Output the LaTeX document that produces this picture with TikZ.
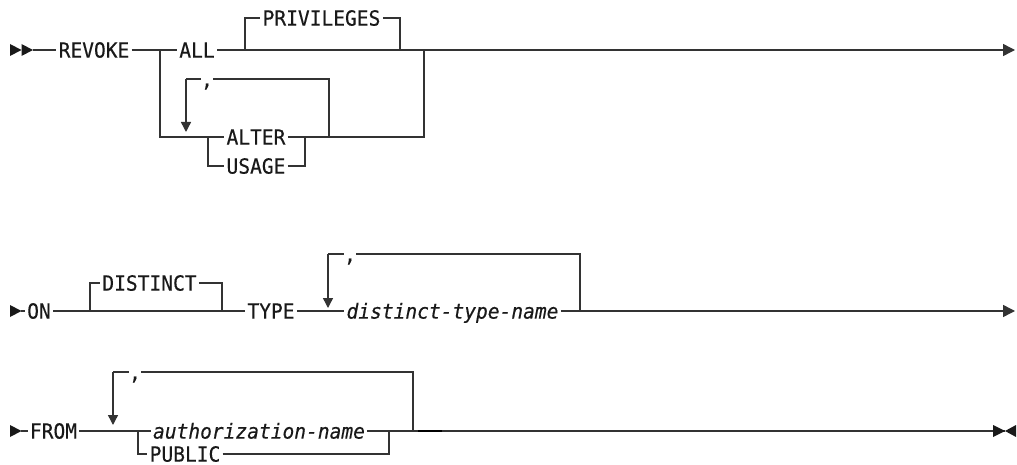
\documentclass[tikz,border=0pt]{standalone}
\usepackage{fontspec}
\newfontfamily\railfont[FakeStretch=0.94,FakeBold=0.4]{DejaVu Sans Mono}
\usetikzlibrary{arrows.meta}
\tikzset{
  rail/.style={draw=black!80,line width=0.7pt},
  kw/.style={font=\railfont\fontsize{10.4}{12}\selectfont,text=black!90,
    inner xsep=1pt,inner ysep=0pt,text height=7.6pt,text depth=0pt},
  var/.style={kw,font=\railfont\itshape\fontsize{10.4}{12}\selectfont},
  sep/.style={kw,inner xsep=0pt},
  head/.style={fill=black!90},
  tip/.style={-{Triangle[length=6pt,width=6pt]}},
  down/.style={-{Triangle[length=5pt,width=5pt]}},
}
\begin{document}
\begin{tikzpicture}[x=0.5pt,y=-0.5pt]
  \useasboundingbox (0,0) rectangle (1017,465);
  % REVOKE ALL / ALTER / USAGE
  \coordinate (s1) at (10,50);
  \coordinate (s1e) at (33,50);
  \coordinate (j1) at (160,50);
  \coordinate (j1b) at (160,137);
  \coordinate (p1) at (245,50);
  \coordinate (p1t) at (245,18);
  \coordinate (p2) at (400,50);
  \coordinate (p2t) at (400,18);
  \coordinate (j2) at (424,50);
  \coordinate (j2b) at (424,137);
  \coordinate (e1) at (1015,50);
  \coordinate (c1) at (329,137);
  \coordinate (c1t) at (329,79);
  \coordinate (c1l) at (186,79);
  \coordinate (c1a) at (186,132);
  \coordinate (u1) at (208,137);
  \coordinate (u1b) at (208,166);
  \coordinate (u2) at (305,137);
  \coordinate (u2b) at (305,166);
  \node[kw] (revoke) at (94,50) {REVOKE};
  \node[kw] (all) at (197,50) {ALL};
  \node[kw] (priv) at (321.5,18) {PRIVILEGES};
  \node[kw] (alter) at (256,137) {ALTER};
  \node[kw] (usage) at (256,166) {USAGE};
  \node[sep] (comma1) at (207,79) {,};
  \fill[head] (s1) ++(0,-6) -- ++(11.5,6) -- ++(-11.5,6) -- cycle;
  \fill[head] (s1) ++(11.5,-6) -- ++(11.5,6) -- ++(-11.5,6) -- cycle;
  \draw[rail] (s1e) -- (revoke.west) (revoke.east) -- (j1) -- (all.west)
    (all.east) -- (p1) -- (p2) -- (j2);
  \draw[rail,tip] (j2) -- (e1);
  \draw[rail] (p1) -- (p1t) -- (priv.west) (priv.east) -- (p2t) -- (p2);
  \draw[rail] (j1) -- (j1b) -- (alter.west) (alter.east) -- (u2) -- (c1) -- (j2b) -- (j2);
  \draw[rail] (u1) -- (u1b) -- (usage.west) (usage.east) -- (u2b) -- (u2);
  \draw[rail] (c1) -- (c1t) -- (comma1.east) (comma1.west) -- (c1l);
  \draw[rail,down] (c1l) -- (c1a);

  % ON DISTINCT TYPE
  \coordinate (s2) at (10,311);
  \coordinate (s2e) at (21,311);
  \coordinate (d1) at (90,311);
  \coordinate (d1t) at (90,283);
  \coordinate (d2) at (222,311);
  \coordinate (d2t) at (222,283);
  \coordinate (c2l) at (328,254);
  \coordinate (c2a) at (328,308);
  \coordinate (c2) at (580,311);
  \coordinate (c2t) at (580,254);
  \coordinate (e2) at (1015,311);
  \node[kw] (on) at (39,311) {ON};
  \node[kw] (distinct) at (149.5,283) {DISTINCT};
  \node[kw] (type) at (271,311) {TYPE};
  \node[sep] (comma2) at (350,254) {,};
  \node[var] (dtname) at (452.5,311) {distinct-type-name};
  \fill[head] (s2) ++(0,-6) -- ++(11.5,6) -- ++(-11.5,6) -- cycle;
  \draw[rail] (s2e) -- (on.west) (on.east) -- (d1) -- (d2) -- (type.west)
    (type.east) -- (dtname.west) (dtname.east) -- (c2);
  \draw[rail,tip] (c2) -- (e2);
  \draw[rail] (d1) -- (d1t) -- (distinct.west) (distinct.east) -- (d2t) -- (d2);
  \draw[rail] (c2) -- (c2t) -- (comma2.east) (comma2.west) -- (c2l);
  \draw[rail,down] (c2l) -- (c2a);

  % FROM authorization-name / PUBLIC
  \coordinate (s3) at (10,431);
  \coordinate (s3e) at (21,431);
  \coordinate (c3l) at (113,372);
  \coordinate (c3a) at (113,425);
  \coordinate (a1) at (138,431);
  \coordinate (a1b) at (138,454);
  \coordinate (a2) at (389,431);
  \coordinate (a2b) at (389,454);
  \coordinate (c3) at (413,431);
  \coordinate (c3t) at (413,372);
  \coordinate (m1) at (418,431);
  \coordinate (m2) at (442,431);
  \coordinate (e3) at (1005,431);
  \node[kw] (from) at (53.5,431) {FROM};
  \node[sep] (comma3) at (135,372) {,};
  \node[var] (authname) at (259,431) {authorization-name};
  \node[kw] (public) at (185,454) {PUBLIC};
  \fill[head] (s3) ++(0,-6) -- ++(11.5,6) -- ++(-11.5,6) -- cycle;
  \draw[rail] (s3e) -- (from.west) (from.east) -- (a1) -- (authname.west)
    (authname.east) -- (a2) -- (c3) -- (e3);
  \draw[rail] (a1) -- (a1b) -- (public.west) (public.east) -- (a2b) -- (a2);
  \draw[rail] (c3) -- (c3t) -- (comma3.east) (comma3.west) -- (c3l);
  \draw[rail,down] (c3l) -- (c3a);
  \draw[black,line width=1.3pt] (m1) -- (m2);
  \fill[head] (e3) -- ++(-12,-6) -- ++(0,12) -- cycle;
  \fill[head] (e3) -- ++(11,-6) -- ++(0,12) -- cycle;
\end{tikzpicture}
\end{document}
